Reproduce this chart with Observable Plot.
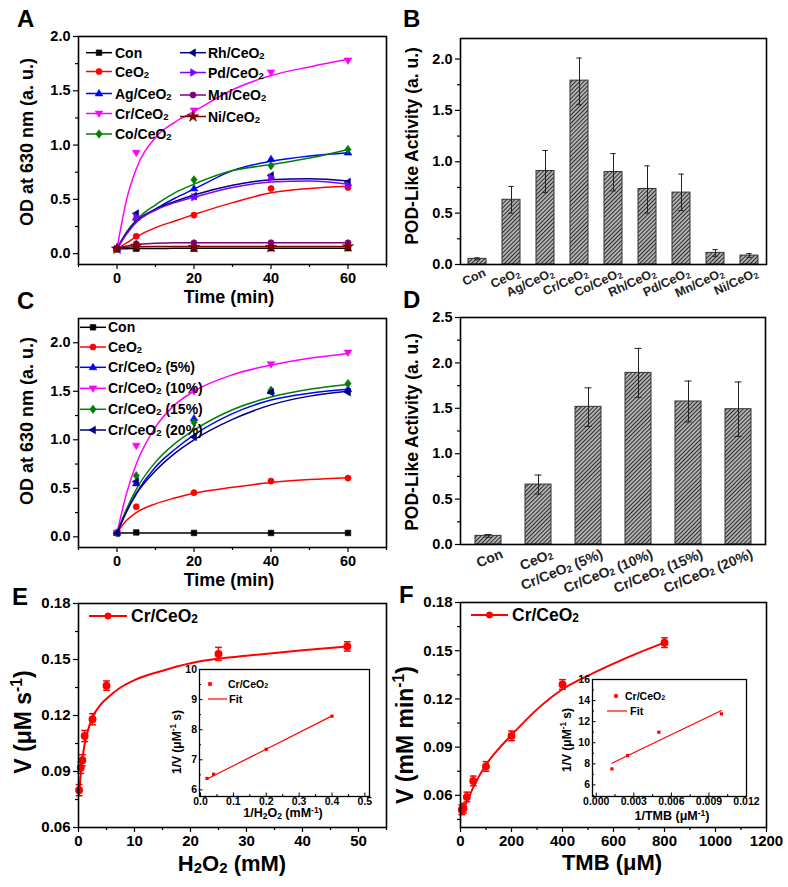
<!DOCTYPE html>
<html><head><meta charset="utf-8">
<script src="https://cdn.jsdelivr.net/npm/d3@7"></script>
<script src="https://cdn.jsdelivr.net/npm/@observablehq/plot@0.6"></script>
<style>
body{margin:0;background:#fff}
#c{position:relative;width:788px;height:887px;overflow:hidden;font-family:"Liberation Sans",Arial,sans-serif}
#c svg{position:absolute}
</style></head><body>
<svg width="0" height="0" style="position:absolute">
<defs><pattern id="hatch" patternUnits="userSpaceOnUse" width="2.9" height="2.9" patternTransform="rotate(45)">
<rect width="2.9" height="2.9" fill="#b4b4b4"/><line x1="0.5" y1="0" x2="0.5" y2="2.9" stroke="#2a2a2a" stroke-width="1"/></pattern></defs></svg>
<div id="c"></div>
<script>
// ---------------- DATA ----------------
// Panels A / C : OD at 630 nm vs time
const timePts = [0, 5, 20, 40, 60];
const timeFit = [0, 2.5, 5, 10, 15, 20, 30, 40, 50, 60];

const seriesA = ["Con", "CeO_{2}", "Ag/CeO_{2}", "Cr/CeO_{2}", "Co/CeO_{2}", "Rh/CeO_{2}", "Pd/CeO_{2}", "Mn/CeO_{2}", "Ni/CeO_{2}"];
const colorsA = ["#000000", "#ff0000", "#0000ff", "#ff00ff", "#008000", "#000080", "#8000ff", "#800080", "#800000"];
const symbolsA = ["square", "circle", "triUp", "triDown", "diamond", "triLeft", "triRight", "circle", "star"];
const pointsA = [
  [0.045, 0.045, 0.046, 0.050, 0.050],
  [0.045, 0.160, 0.355, 0.600, 0.610],
  [0.045, 0.330, 0.600, 0.870, 0.930],
  [0.045, 0.930, 1.320, 1.670, 1.780],
  [0.045, 0.320, 0.680, 0.810, 0.960],
  [0.045, 0.370, 0.530, 0.720, 0.660],
  [0.045, 0.340, 0.520, 0.700, 0.630],
  [0.045, 0.090, 0.100, 0.100, 0.100],
  [0.045, 0.070, 0.060, 0.060, 0.065]
];
const fitA = [
  [0.045, 0.046, 0.047, 0.048, 0.049, 0.050, 0.050, 0.050, 0.050, 0.050],
  [0.045, 0.100, 0.155, 0.240, 0.300, 0.360, 0.470, 0.560, 0.600, 0.620],
  [0.045, 0.190, 0.290, 0.410, 0.510, 0.595, 0.765, 0.850, 0.900, 0.930],
  [0.045, 0.500, 0.780, 1.070, 1.210, 1.310, 1.510, 1.640, 1.720, 1.790],
  [0.045, 0.200, 0.310, 0.450, 0.560, 0.640, 0.765, 0.820, 0.880, 0.960],
  [0.045, 0.190, 0.300, 0.410, 0.480, 0.540, 0.630, 0.680, 0.690, 0.670],
  [0.045, 0.180, 0.290, 0.400, 0.470, 0.520, 0.610, 0.660, 0.670, 0.640],
  [0.045, 0.070, 0.085, 0.095, 0.100, 0.100, 0.100, 0.100, 0.100, 0.100],
  [0.045, 0.058, 0.064, 0.066, 0.066, 0.065, 0.065, 0.065, 0.065, 0.066]
];

const seriesC = ["Con", "CeO_{2}", "Cr/CeO_{2} (5%)", "Cr/CeO_{2} (10%)", "Cr/CeO_{2} (15%)", "Cr/CeO_{2} (20%)"];
const colorsC = ["#000000", "#ff0000", "#0000ff", "#ff00ff", "#008000", "#000080"];
const symbolsC = ["square", "circle", "triUp", "triDown", "diamond", "triLeft"];
const pointsC = [
  [0.040, 0.045, 0.040, 0.040, 0.040],
  [0.040, 0.310, 0.455, 0.575, 0.605],
  [0.040, 0.550, 1.220, 1.500, 1.520],
  [0.040, 0.940, 1.500, 1.780, 1.900],
  [0.040, 0.630, 1.180, 1.510, 1.580],
  [0.040, 0.570, 1.030, 1.490, 1.490]
];
const fitC = [
  [0.040, 0.040, 0.040, 0.040, 0.040, 0.040, 0.040, 0.040, 0.040, 0.040],
  [0.040, 0.170, 0.250, 0.340, 0.400, 0.450, 0.510, 0.560, 0.590, 0.610],
  [0.040, 0.270, 0.450, 0.720, 0.900, 1.050, 1.270, 1.410, 1.480, 1.520],
  [0.040, 0.450, 0.750, 1.130, 1.360, 1.500, 1.670, 1.770, 1.840, 1.890],
  [0.040, 0.290, 0.490, 0.770, 0.960, 1.100, 1.310, 1.440, 1.520, 1.570],
  [0.040, 0.260, 0.440, 0.680, 0.860, 1.000, 1.210, 1.360, 1.450, 1.500]
];

// Panel B : POD-like activity
const catsB = ["Con", "CeO_{2}", "Ag/CeO_{2}", "Cr/CeO_{2}", "Co/CeO_{2}", "Rh/CeO_{2}", "Pd/CeO_{2}", "Mn/CeO_{2}", "Ni/CeO_{2}"];
const actB = [0.055, 0.63, 0.91, 1.79, 0.90, 0.735, 0.70, 0.113, 0.087];
const loB  = [0.045, 0.50, 0.70, 1.555, 0.716, 0.50, 0.526, 0.08, 0.07];
const hiB  = [0.065, 0.76, 1.11, 2.01, 1.08, 0.96, 0.88, 0.145, 0.106];

// Panel D : POD-like activity vs Cr loading
const catsD = ["Con", "CeO_{2}", "Cr/CeO_{2} (5%)", "Cr/CeO_{2} (10%)", "Cr/CeO_{2} (15%)", "Cr/CeO_{2} (20%)"];
const actD = [0.095, 0.66, 1.516, 1.89, 1.575, 1.49];
const loD  = [0.08, 0.555, 1.30, 1.62, 1.35, 1.19];
const hiD  = [0.11, 0.765, 1.725, 2.16, 1.80, 1.79];

// Panel E : V vs H2O2
const h2o2 = [0.1, 0.4, 0.7, 1.1, 2.5, 5, 25, 48];
const vH2O2 = [0.080, 0.092, 0.096, 0.109, 0.118, 0.136, 0.153, 0.157];
const errH2O2 = [0.003, 0.003, 0.003, 0.003, 0.003, 0.0025, 0.0035, 0.0025];
const h2o2Fit = [0.1, 0.3, 0.6, 1, 1.5, 2.5, 4, 5, 7.5, 10, 15, 20, 25, 30, 40, 48];
const vH2O2Fit = [0.077, 0.085, 0.094, 0.103, 0.110, 0.119, 0.126, 0.129, 0.135, 0.139, 0.144, 0.148, 0.1505, 0.152, 0.155, 0.157];
// inset E : Lineweaver-Burk
const invH2O2 = [0.02, 0.04, 0.2, 0.4];
const invVE = [6.38, 6.52, 7.35, 8.45];
const invH2O2Fit = [0.02, 0.4];
const invVEFit = [6.36, 8.46];

// Panel F : V vs TMB
const tmb = [5, 12, 25, 50, 100, 200, 400, 800];
const vTMB = [0.051, 0.052, 0.059, 0.069, 0.078, 0.097, 0.129, 0.155];
const errTMB = [0.003, 0.003, 0.003, 0.003, 0.003, 0.003, 0.003, 0.003];
const tmbFit = [5, 25, 50, 100, 150, 200, 300, 400, 500, 600, 700, 800];
const vTMBFit = [0.050, 0.056, 0.065, 0.079, 0.089, 0.0975, 0.1135, 0.126, 0.1345, 0.142, 0.1488, 0.155];
// inset F
const invTMB = [0.00125, 0.0025, 0.005, 0.01];
const invVF = [7.52, 8.78, 11.0, 12.74];
const invTMBFit = [0.00125, 0.01];
const invVFFit = [8.05, 13.06];

// ---------------- HELPERS ----------------
const C = document.getElementById("c");
const FONT = '"Liberation Sans", Arial, Helvetica, sans-serif';
const R = s => Math.sqrt(s / Math.PI);
const SYM = {
  square: {draw(c, s) { const r = R(s) * 0.9; c.rect(-r, -r, 2 * r, 2 * r); }},
  circle: {draw(c, s) { const r = R(s); c.moveTo(r, 0); c.arc(0, 0, r, 0, 2 * Math.PI); }},
  triUp: {draw(c, s) { const r = R(s) * 1.3; c.moveTo(0, -r); c.lineTo(r * 0.95, r * 0.6); c.lineTo(-r * 0.95, r * 0.6); c.closePath(); }},
  triDown: {draw(c, s) { const r = R(s) * 1.3; c.moveTo(0, r); c.lineTo(r * 0.95, -r * 0.6); c.lineTo(-r * 0.95, -r * 0.6); c.closePath(); }},
  triLeft: {draw(c, s) { const r = R(s) * 1.3; c.moveTo(-r, 0); c.lineTo(r * 0.6, -r * 0.95); c.lineTo(r * 0.6, r * 0.95); c.closePath(); }},
  triRight: {draw(c, s) { const r = R(s) * 1.3; c.moveTo(r, 0); c.lineTo(-r * 0.6, -r * 0.95); c.lineTo(-r * 0.6, r * 0.95); c.closePath(); }},
  diamond: {draw(c, s) { const r = R(s) * 1.35; c.moveTo(0, -r); c.lineTo(r * 0.75, 0); c.lineTo(0, r); c.lineTo(-r * 0.75, 0); c.closePath(); }},
  star: {draw(c, s) { d3.symbolStar.draw(c, s * 1.3); }},
  cap: {draw(c, s) { const w = R(s); c.moveTo(-w, 0); c.lineTo(w, 0); }}
};
const range = (a, b, st) => d3.range(a, b + st / 2, st).map(v => +v.toFixed(6));

function axes({xMajor, xMinor, yMajor, yMinor, xFmt, yFmt, tick = 5, minor = 3, xPad = 3, yPad = 3}) {
  const m = [];
  if (xMajor) m.push(Plot.axisX({ticks: xMajor, tickSize: tick, tickPadding: xPad, tickFormat: xFmt, label: null, strokeWidth: 1.2}));
  if (xMinor) m.push(Plot.axisX({ticks: xMinor, tickSize: minor, tickFormat: () => "", label: null, strokeWidth: 1.2}));
  if (yMajor) m.push(Plot.axisY({ticks: yMajor, tickSize: tick, tickPadding: yPad, tickFormat: yFmt, label: null, strokeWidth: 1.2}));
  if (yMinor) m.push(Plot.axisY({ticks: yMinor, tickSize: minor, tickFormat: () => "", label: null, strokeWidth: 1.2}));
  return m;
}
function style(fs) {
  return {background: "transparent", overflow: "visible", fontFamily: FONT, fontWeight: "bold", fontSize: fs + "px", color: "#000"};
}
function place(svg, left, top) {
  svg.style.left = left + "px"; svg.style.top = top + "px";
  svg.style.maxWidth = "none";
  C.appendChild(svg); return svg;
}
function rich(t, str) {
  t.text(null);
  const re = /([_^])\{([^}]*)\}/g; let last = 0, m;
  while ((m = re.exec(str))) {
    if (m.index > last) t.append("tspan").text(str.slice(last, m.index));
    t.append("tspan").attr("baseline-shift", m[1] === "_" ? "-28%" : "38%").attr("font-size", "68%").text(m[2]);
    last = re.lastIndex;
  }
  if (last < str.length) t.append("tspan").text(str.slice(last));
}

// kinetic panel (A, C)
function kinetic(series, colors, symbols, pts, fits, yDomain, left, top, w, h, mg, yTicks) {
  const marks = [];
  series.forEach((s, i) => {
    const fr = timeFit.map((t, j) => ({t, v: fits[i][j]}));
    const pr = timePts.map((t, j) => ({t, v: pts[i][j]}));
    marks.push(Plot.line(fr, {x: "t", y: "v", stroke: colors[i], strokeWidth: 1.5, curve: "monotone-x"}));
    marks.push(Plot.dot(pr, {x: "t", y: "v", r: 3.1, symbol: SYM[symbols[i]], fill: colors[i], stroke: colors[i], strokeWidth: 0.6}));
  });
  const p = Plot.plot({
    width: w, height: h, marginLeft: mg[0], marginRight: mg[1], marginTop: mg[2], marginBottom: mg[3],
    x: {domain: [-10, 70]}, y: {domain: yDomain},
    style: style(14.5),
    marks: [
      ...marks,
      ...axes({xMajor: [0, 20, 40, 60], xMinor: [-10, 10, 30, 50, 70], yMajor: yTicks,
        yMinor: range(0.25, yDomain[1], 0.5).filter(v => v < yDomain[1]), xFmt: d3.format("d"), yFmt: d3.format(".1f")}),
      Plot.frame({stroke: "#000", strokeWidth: 1.6})
    ]
  });
  return place(p, left, top);
}

function bars(cats, vals, lo, hi, yDomain, yTicks, left, top, w, h, mg, capInset) {
  const rows = cats.map((c, i) => ({c, v: vals[i], lo: lo[i], hi: hi[i]}));
  const p = Plot.plot({
    width: w, height: h, marginLeft: mg[0], marginRight: mg[1], marginTop: mg[2], marginBottom: mg[3],
    x: {type: "band", domain: cats, paddingInner: 0.48, paddingOuter: 0.24, axis: null},
    y: {domain: yDomain},
    style: style(14.5),
    marks: [
      Plot.barY(rows, {x: "c", y: "v", fill: "url(#hatch)", stroke: "#333", strokeWidth: 1}),
      Plot.ruleX(rows, {x: "c", y1: "lo", y2: "hi", stroke: "#222", strokeWidth: 1}),
      Plot.tickY(rows, {x: "c", y: "hi", stroke: "#222", strokeWidth: 1, insetLeft: capInset, insetRight: capInset}),
      Plot.tickY(rows, {x: "c", y: "lo", stroke: "#222", strokeWidth: 1, insetLeft: capInset, insetRight: capInset}),
      ...axes({yMajor: yTicks, yMinor: range(0.25, yDomain[1], 0.5).filter(v => v < yDomain[1]), yFmt: d3.format(".1f")}),
      Plot.frame({stroke: "#000", strokeWidth: 1.6})
    ]
  });
  place(p, left, top);
  return p;
}

function mm(xs, ys, errs, fx, fy, xDomain, yDomain, xMajor, xMinor, left, top, w, h, mg) {
  const pr = xs.map((x, i) => ({x, y: ys[i], lo: ys[i] - errs[i], hi: ys[i] + errs[i]}));
  const fr = fx.map((x, i) => ({x, y: fy[i]}));
  const p = Plot.plot({
    width: w, height: h, marginLeft: mg[0], marginRight: mg[1], marginTop: mg[2], marginBottom: mg[3],
    x: {domain: xDomain}, y: {domain: yDomain},
    style: style(15),
    marks: [
      Plot.line(fr, {x: "x", y: "y", stroke: "#ff0000", strokeWidth: 2, curve: "monotone-x"}),
      Plot.ruleX(pr, {x: "x", y1: "lo", y2: "hi", stroke: "#ff0000", strokeWidth: 1.5}),
      Plot.dot(pr, {x: "x", y: "lo", symbol: SYM.cap, r: 3.4, stroke: "#ff0000", strokeWidth: 1.5}),
      Plot.dot(pr, {x: "x", y: "hi", symbol: SYM.cap, r: 3.4, stroke: "#ff0000", strokeWidth: 1.5}),
      Plot.dot(pr, {x: "x", y: "y", r: 3.2, fill: "#ff0000", stroke: "#ff0000"}),
      ...axes({xMajor, xMinor, yMajor: [0.06, 0.09, 0.12, 0.15, 0.18], yMinor: [0.045, 0.075, 0.105, 0.135, 0.165].filter(v => v > yDomain[0]), xFmt: d3.format("d"), yFmt: d3.format(".2f")}),
      Plot.frame({stroke: "#000", strokeWidth: 1.6})
    ]
  });
  return place(p, left, top);
}

// inset: inward ticks, labels right against the frame
function inset(xs, ys, fx, fy, xDomain, yDomain, xMajor, xMinor, yMajor, yMinor, xFmt, yFmt, left, top, w, h, mg) {
  const pr = xs.map((x, i) => ({x, y: ys[i]}));
  const fr = fx.map((x, i) => ({x, y: fy[i]}));
  const fw = w - mg[0] - mg[1], fh = h - mg[2] - mg[3];
  const p = Plot.plot({
    width: w, height: h, marginLeft: mg[0], marginRight: mg[1], marginTop: mg[2], marginBottom: mg[3],
    x: {domain: xDomain}, y: {domain: yDomain},
    style: style(10.5),
    marks: [
      Plot.frame({fill: "#fff"}),
      Plot.line(fr, {x: "x", y: "y", stroke: "#ff0000", strokeWidth: 1.2}),
      Plot.dot(pr, {x: "x", y: "y", symbol: SYM.square, r: 1.8, fill: "#ff0000"}),
      Plot.axisX({ticks: xMajor, tickSize: 0, tickPadding: 1, tickFormat: xFmt, label: null}),
      Plot.axisY({ticks: yMajor, tickSize: 0, tickPadding: 2.5, tickFormat: yFmt, label: null}),
      Plot.tickX(xMajor, {x: d => d, insetTop: fh - 3.5, stroke: "#000"}),
      Plot.tickX(xMinor, {x: d => d, insetTop: fh - 2, stroke: "#000"}),
      Plot.tickY(yMajor, {y: d => d, insetRight: fw - 3.5, stroke: "#000"}),
      Plot.tickY(yMinor, {y: d => d, insetRight: fw - 2, stroke: "#000"}),
      Plot.frame({stroke: "#000", strokeWidth: 1.3})
    ]
  });
  return place(p, left, top);
}

// ---------------- PANELS ----------------
const pA = kinetic(seriesA, colorsA, symbolsA, pointsA, fitA, [-0.1, 2.0], 0, 0, 394, 310, [78, 8, 36, 46], [0, 0.5, 1.0, 1.5, 2.0]);
const pB = bars(catsB, actB, loB, hiB, [0, 2.2], [0, 0.5, 1.0, 1.5, 2.0], 394, 0, 394, 310, [66, 22, 38, 46], 6.3);
const pC = kinetic(seriesC, colorsC, symbolsC, pointsC, fitC, [-0.11, 2.25], 0, 290, 394, 310, [78, 8, 28, 53], [0, 0.5, 1.0, 1.5, 2.0]);
const pD = bars(catsD, actD, loD, hiD, [0, 2.5], [0, 0.5, 1.0, 1.5, 2.0, 2.5], 394, 290, 394, 310, [66, 23, 27, 56], 9.5);
const pE = mm(h2o2, vH2O2, errH2O2, h2o2Fit, vH2O2Fit, [0, 55], [0.06, 0.18], [0, 10, 20, 30, 40, 50], [5, 15, 25, 35, 45, 55], 0, 580, 394, 307, [78, 8, 23, 60]);
const pF = mm(tmb, vTMB, errTMB, tmbFit, vTMBFit, [0, 1200], [0.04, 0.18], [0, 200, 400, 600, 800, 1000, 1200], [100, 300, 500, 700, 900, 1100], 394, 580, 394, 307, [66, 22, 22, 60]);
const iE = inset(invH2O2, invVE, invH2O2Fit, invVEFit, [-0.003, 0.514], [5.78, 10], [0, 0.1, 0.2, 0.3, 0.4, 0.5], [0.05, 0.15, 0.25, 0.35, 0.45], [6, 7, 8, 9, 10], [6.5, 7.5, 8.5, 9.5], d3.format(".1f"), d3.format("d"), 150, 650, 240, 190, [49, 21, 19, 44]);
const iF = inset(invTMB, invVF, invTMBFit, invVFFit, [-0.0003, 0.012], [4.9, 16], [0, 0.003, 0.006, 0.009, 0.012], [0.0015, 0.0045, 0.0075, 0.0105], [6, 8, 10, 12, 14, 16], [5, 7, 9, 11, 13, 15], d3.format(".3f"), d3.format("d"), 530, 660, 250, 190, [62, 34, 19, 54]);

// ---------------- OVERLAY (titles, legends, labels) ----------------
const ov = d3.select(C).append("svg").attr("width", 788).attr("height", 887)
  .style("left", "0px").style("top", "0px").style("pointer-events", "none")
  .attr("font-family", FONT).attr("font-weight", "bold");

function label(str, x, y, {size = 14, rotate = 0, anchor = "middle", baseline = "central", fill = "#000"} = {}) {
  const t = ov.append("text").attr("transform", `translate(${x},${y}) rotate(${rotate})`)
    .attr("text-anchor", anchor).attr("font-size", size).attr("dominant-baseline", baseline).attr("fill", fill);
  rich(t, str);
  return t;
}
function legendItem(x1, x2, y, color, sym, text, tx, size, {r = 3.1, lw = 1.5, line = true, marker = true} = {}) {
  if (line) ov.append("line").attr("x1", x1).attr("x2", x2).attr("y1", y).attr("y2", y).attr("stroke", color).attr("stroke-width", lw);
  if (marker) ov.append("path").attr("transform", `translate(${(x1 + x2) / 2},${y})`)
    .attr("d", d3.symbol(sym, Math.PI * r * r)()).attr("fill", color).attr("stroke", color).attr("stroke-width", 0.6);
  label(text, tx, y, {size, anchor: "start"});
}

// panel letters
[["A", 17, 27], ["B", 403, 27], ["C", 17, 309], ["D", 403, 308], ["E", 12, 605], ["F", 399, 603]]
  .forEach(([s, x, y]) => label(s, x, y, {size: 24, anchor: "start", baseline: "alphabetic"}));

// axis titles
label("OD at 630 nm (a. u.)", 27, 142, {size: 18, rotate: -90});
label("Time (min)", 229, 297, {size: 18});
label("POD-Like Activity (a. u.)", 412, 146, {size: 17.5, rotate: -90});
label("OD at 630 nm (a. u.)", 27, 421, {size: 18, rotate: -90});
label("Time (min)", 229, 580, {size: 18});
label("POD-Like Activity (a. u.)", 412, 432, {size: 17.5, rotate: -90});
label("V (μM s^{-1})", 23, 722, {size: 23, rotate: -90});
label("H_{2}O_{2} (mM)", 232, 863, {size: 22});
label("V (mM min^{-1})", 405, 735, {size: 23, rotate: -90});
label("TMB (μM)", 612, 862, {size: 22});
label("1/V (μM^{-1} s)", 177, 742, {size: 12, rotate: -90});
label("1/H_{2}O_{2} (mM^{-1})", 283, 813, {size: 12.5});
label("1/V (μM^{-1} s)", 567, 740, {size: 12, rotate: -90});
label("1/TMB (μM^{-1})", 672, 816, {size: 12.5});

// rotated category labels for B and D (positions from the band scales)
function catLabels(p, cats, pageLeft, pageTop, dx, dy, rot, size) {
  const sx = p.scale("x");
  const bottom = p.scale("y").apply(0);
  cats.forEach(c => {
    const x = pageLeft + sx.apply(c) + sx.bandwidth / 2 + dx;
    label(c, x, pageTop + bottom + dy, {size, rotate: rot, anchor: "end", fill: "#222"});
  });
}
catLabels(pB, catsB, 394, 0, 8, 8, -25, 12.5);
catLabels(pD, catsD, 394, 290, 14, 9, -22, 14);

// legend A
const colA1 = [0, 1, 2, 3, 4], colA2 = [5, 6, 7, 8];
const rowA1 = [52.7, 71.5, 93.5, 113.5, 134], rowA2 = [52.7, 72.5, 95, 116.5];
colA1.forEach((i, k) => legendItem(86, 112, rowA1[k], colorsA[i], SYM[symbolsA[i]], seriesA[i], 115, 14));
colA2.forEach((i, k) => legendItem(180, 206, rowA2[k], colorsA[i], SYM[symbolsA[i]], seriesA[i], 208, 14));
// legend C
const rowC = [327.3, 347, 367.3, 388.3, 409.3, 430];
seriesC.forEach((s, i) => legendItem(80, 106, rowC[i], colorsC[i], SYM[symbolsC[i]], s, 108, 14));
// legend E / F
legendItem(89, 127, 616, "#ff0000", SYM.circle, "Cr/CeO_{2}", 131, 17.5, {r: 3.2, lw: 2});
legendItem(471, 508, 615, "#ff0000", SYM.circle, "Cr/CeO_{2}", 512, 17.5, {r: 3.2, lw: 2});
// inset legends
legendItem(208, 212, 684, "#ff0000", SYM.square, "Cr/CeO_{2}", 228, 10.5, {r: 1.8, line: false});
legendItem(208, 227, 699, "#ff0000", SYM.square, "Fit", 229, 11, {marker: false, lw: 1.2});
legendItem(614, 618, 696, "#ff0000", SYM.square, "Cr/CeO_{2}", 625, 10.5, {r: 1.8, line: false});
legendItem(607, 627, 711, "#ff0000", SYM.square, "Fit", 630, 11, {marker: false, lw: 1.2});
</script></body></html>
